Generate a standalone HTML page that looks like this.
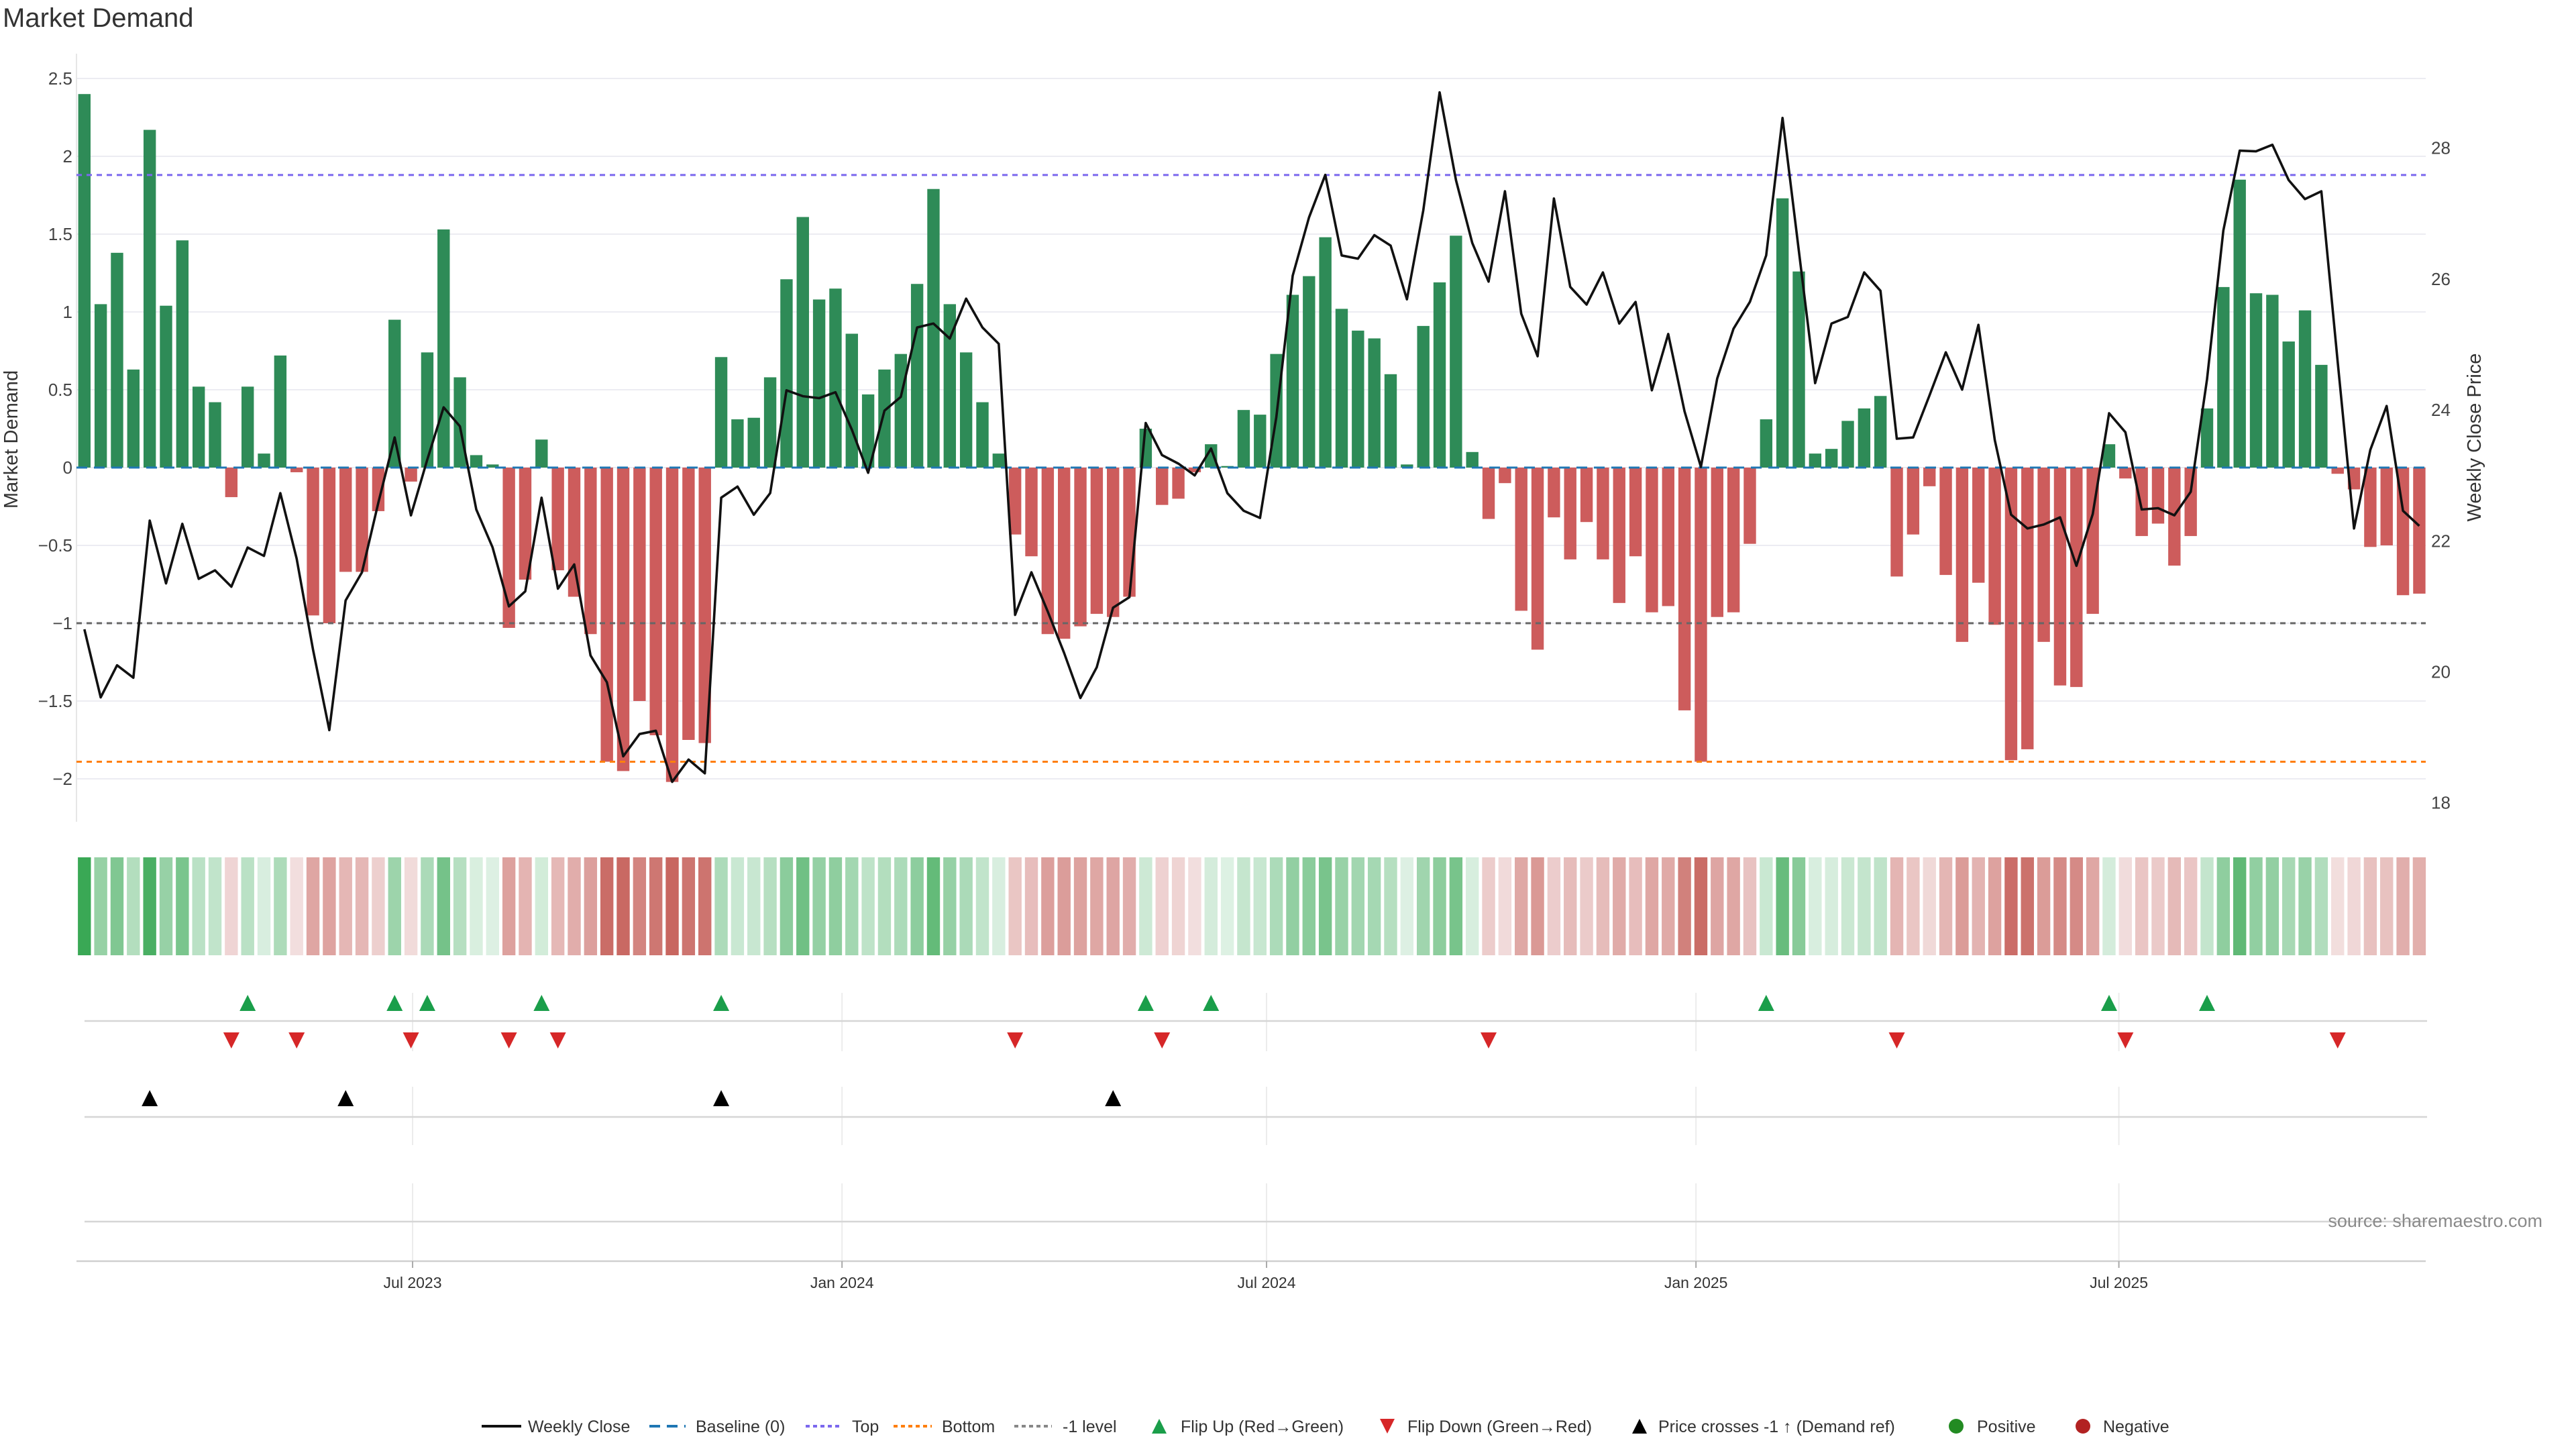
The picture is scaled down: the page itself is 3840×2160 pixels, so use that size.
<!DOCTYPE html>
<html><head><meta charset="utf-8"><title>Market Demand</title>
<style>html,body{margin:0;padding:0;background:#fff}svg{display:block}text{font-family:"Liberation Sans",sans-serif}</style>
</head><body>
<svg id="chart" width="3840" height="2160" viewBox="0 0 3840 2160" xmlns="http://www.w3.org/2000/svg">
<text x="4" y="40" font-size="40" fill="#333">Market Demand</text>
<g id="grid"></g><g id="bars"></g><g id="refs"></g><g id="line"></g><g id="heat"></g><g id="markers"></g><g id="axes"></g>
<text x="3790" y="1829" font-size="27" fill="#8a8a8a" text-anchor="end">source: sharemaestro.com</text>
<g id="legend"></g>
</svg>
<script>
const demand=[2.40,1.05,1.38,0.63,2.17,1.04,1.46,0.52,0.42,-0.19,0.52,0.09,0.72,-0.03,-0.95,-1.00,-0.67,-0.67,-0.28,0.95,-0.09,0.74,1.53,0.58,0.08,0.02,-1.03,-0.72,0.18,-0.66,-0.83,-1.07,-1.89,-1.95,-1.50,-1.72,-2.02,
-1.75,-1.77,0.71,0.31,0.32,0.58,1.21,1.61,1.08,1.15,0.86,0.47,0.63,0.73,1.18,1.79,1.05,0.74,0.42,0.09,-0.43,-0.57,-1.07,-1.10,-1.02,-0.94,-0.96,-0.83,0.25,-0.24,-0.20,-0.03,0.15,0.01,0.37,0.34,0.73,
1.11,1.23,1.48,1.02,0.88,0.83,0.60,0.02,0.91,1.19,1.49,0.10,-0.33,-0.10,-0.92,-1.17,-0.32,-0.59,-0.35,-0.59,-0.87,-0.57,-0.93,-0.89,-1.56,-1.89,-0.96,-0.93,-0.49,0.31,1.73,1.26,0.09,0.12,0.30,0.38,0.46,
-0.70,-0.43,-0.12,-0.69,-1.12,-0.74,-1.01,-1.88,-1.81,-1.12,-1.40,-1.41,-0.94,0.15,-0.07,-0.44,-0.36,-0.63,-0.44,0.38,1.16,1.85,1.12,1.11,0.81,1.01,0.66,-0.04,-0.14,-0.51,-0.50,-0.82,-0.81];
const price=[20.65,19.61,20.10,19.91,22.31,21.35,22.26,21.42,21.55,21.30,21.90,21.77,22.73,21.73,20.34,19.11,21.09,21.52,22.58,23.58,22.39,23.24,24.04,23.75,22.48,21.90,21.00,21.23,22.66,21.27,21.64,20.25,19.84,18.71,19.05,19.10,18.32,
18.66,18.45,22.66,22.83,22.40,22.73,24.30,24.21,24.18,24.27,23.70,23.04,23.99,24.20,25.26,25.32,25.09,25.70,25.26,25.01,20.87,21.52,20.92,20.29,19.60,20.07,20.98,21.14,23.80,23.31,23.18,23.00,23.41,22.73,22.46,22.35,23.89,
26.05,26.94,27.59,26.36,26.31,26.67,26.51,25.69,27.05,28.85,27.51,26.55,25.96,27.34,25.47,24.82,27.23,25.88,25.61,26.10,25.32,25.65,24.30,25.16,23.98,23.13,24.48,25.24,25.65,26.36,28.46,26.43,24.41,25.32,25.42,26.10,25.82,
23.56,23.58,24.22,24.88,24.31,25.30,23.54,22.40,22.19,22.25,22.36,21.62,22.41,23.95,23.66,22.48,22.50,22.39,22.75,24.47,26.74,27.96,27.95,28.05,27.51,27.22,27.34,24.74,22.19,23.39,24.06,22.46,22.23];
const leftTicks=[2.5,2,1.5,1,0.5,0,-0.5,-1,-1.5,-2];
const leftTickLabels=["2.5","2","1.5","1","0.5","0","\u22120.5","\u22121","\u22121.5","\u22122"];
const rightTicks=[18,20,22,24,26,28];
const dateTickWeeks=[20.1,46.4,72.4,98.7,124.6];
const dateTickLabels=["Jul 2023","Jan 2024","Jul 2024","Jan 2025","Jul 2025"];
const topLevel=1.88, bottomLevel=-1.89, minusLevel=-1;

const NS="http://www.w3.org/2000/svg";
function mk(tag,attrs,parent){const e=document.createElementNS(NS,tag);for(const k in attrs)e.setAttribute(k,attrs[k]);parent.appendChild(e);return e;}
const X0=125.8, DX=24.34, PL=114, PR=3616;
const xAt=i=>X0+DX*i;
const yD=v=>697-232*v;
const yP=p=>220.7+(28-p)*97.6;
const pInv=y=>28-(y-220.7)/97.6;

const grid=document.getElementById('grid');
leftTicks.forEach(t=>{const l=mk('line',{x1:PL,x2:PR,y1:yD(t),y2:yD(t),stroke:'#ececf2','stroke-width':2},grid);});
const sp=mk('line',{x1:PL,x2:PL,y1:80,y2:1225,stroke:'#e6e6e6','stroke-width':2},grid);


const bars=document.getElementById('bars');
demand.forEach((v,i)=>{const y0=yD(0),y1=yD(v);
 const r=mk('rect',{x:xAt(i)-9.2,y:Math.min(y0,y1),width:18.4,height:Math.max(1,Math.abs(y1-y0)),fill:v>=0?'#2e8b57':'#cd5c5c'},bars);
 });

const refs=document.getElementById('refs');
function ref(v,col,dash,name){const l=mk('line',{x1:PL,x2:PR,y1:yD(v),y2:yD(v),stroke:col,'stroke-width':3,'stroke-dasharray':dash},refs);}
ref(0,'#1f77b4','16 10','baseline-zero');
ref(topLevel,'#7b68ee','8 7','top-level-line');
ref(bottomLevel,'#ff7f0e','8 7','bottom-level-line');
ref(minusLevel,'#666','8 7','minus-one-level-line');

const lineG=document.getElementById('line');
const pl=mk('polyline',{points:price.map((p,i)=>xAt(i).toFixed(1)+','+yP(p).toFixed(1)).join(' '),fill:'none',stroke:'#111','stroke-width':3.6,'stroke-linejoin':'round'},lineG);


const heat=document.getElementById('heat');
function lerp(a,b,t){return a.map((c,k)=>Math.round(c+(b[k]-c)*t));}
demand.forEach((v,i)=>{let c;
 if(v>=0)c=lerp([222,241,228],[58,168,85],Math.min(1,v/2.4));else c=lerp([243,224,224],[200,102,96],Math.min(1,-v/2.0));
 const r=mk('rect',{x:xAt(i)-9.7,y:1278,width:19.4,height:146,fill:'rgb('+c.join(',')+')'},heat);
 });

const mg=document.getElementById('markers');
[[1480,1567],[1620,1707],[1764,1880]].forEach(s=>dateTickWeeks.forEach(w=>{const l=mk('line',{x1:xAt(w),x2:xAt(w),y1:s[0],y2:s[1],stroke:'#ececec','stroke-width':2},mg);}));
[1522,1665,1821].forEach(y=>{const l=mk('line',{x1:126,x2:3618,y1:y,y2:y,stroke:'#d6d6d6','stroke-width':2.5},mg);});
function tri(x,y,up,col,name){const s=12;const pts=up?`${x},${y-s} ${x-s},${y+s} ${x+s},${y+s}`:`${x-s},${y-s} ${x+s},${y-s} ${x},${y+s}`;
 const p=mk('polygon',{points:pts,fill:col},mg);}
for(let i=1;i<demand.length;i++){
 if(demand[i-1]<0&&demand[i]>=0)tri(xAt(i),1495,true,'#1a9e4a','flip-up-marker');
 if(demand[i-1]>=0&&demand[i]<0)tri(xAt(i),1551,false,'#d62728','flip-down-marker');}
const refPrice=pInv(yD(minusLevel));
for(let i=1;i<price.length;i++){if(price[i-1]<refPrice&&price[i]>=refPrice)tri(xAt(i),1637,true,'#000','price-cross-marker');}

const ax=document.getElementById('axes');
leftTicks.forEach((t,k)=>{const e=mk('text',{x:108,y:yD(t)+9,'font-size':26,fill:'#444','text-anchor':'end'},ax);e.textContent=leftTickLabels[k];});
rightTicks.forEach(t=>{const e=mk('text',{x:3624,y:yP(t)+9,'font-size':26,fill:'#444'},ax);e.textContent=String(t);});
let t1=mk('text',{x:0,y:0,'font-size':29,fill:'#333','text-anchor':'middle',transform:'translate(26,655) rotate(-90)'},ax);t1.textContent='Market Demand';

let t2=mk('text',{x:0,y:0,'font-size':29,fill:'#333','text-anchor':'middle',transform:'translate(3698,652) rotate(-90)'},ax);t2.textContent='Weekly Close Price';

const xa=mk('line',{x1:PL,x2:PR,y1:1880,y2:1880,stroke:'#cfcfcf','stroke-width':2.5},ax);
dateTickWeeks.forEach((w,k)=>{const tk=mk('line',{x1:xAt(w),x2:xAt(w),y1:1880,y2:1890,stroke:'#aaa','stroke-width':2},ax);
 const e=mk('text',{x:xAt(w),y:1920,'font-size':23,fill:'#333','text-anchor':'middle'},ax);e.textContent=dateTickLabels[k];});

const lg=document.getElementById('legend');const LY=2126;
function ltext(x,s){const e=mk('text',{x:x,y:LY+9,'font-size':25,fill:'#333'},lg);e.textContent=s;}
function lline(x1,x2,col,dash,w){const l=mk('line',{x1:x1,x2:x2,y1:LY,y2:LY,stroke:col,'stroke-width':w,'stroke-dasharray':dash},lg);}
lline(718,777,'#111','none',4);ltext(787,'Weekly Close');
lline(968,1022,'#1f77b4','16 10',4);ltext(1037,'Baseline (0)');
lline(1201,1254,'#7b68ee','6 5',4);ltext(1270,'Top');
lline(1332,1389,'#ff7f0e','6 5',4);ltext(1404,'Bottom');
lline(1512,1568,'#888','6 5',4);ltext(1584,'-1 level');
function ltri(x,up,col){const s=11,y=LY;const pts=up?`${x},${y-s} ${x-s},${y+s} ${x+s},${y+s}`:`${x-s},${y-s} ${x+s},${y-s} ${x},${y+s}`;const p=mk('polygon',{points:pts,fill:col},lg);}
ltri(1728,true,'#1a9e4a');ltext(1760,'Flip Up (Red\u2192Green)');
ltri(2068,false,'#d62728');ltext(2098,'Flip Down (Green\u2192Red)');
ltri(2444,true,'#000');ltext(2472,'Price crosses -1 \u2191 (Demand ref)');
const c1=mk('circle',{cx:2916,cy:LY,r:11,fill:'#228b22'},lg);ltext(2947,'Positive');
const c2=mk('circle',{cx:3105,cy:LY,r:11,fill:'#b22222'},lg);ltext(3135,'Negative');
</script>
</body></html>
